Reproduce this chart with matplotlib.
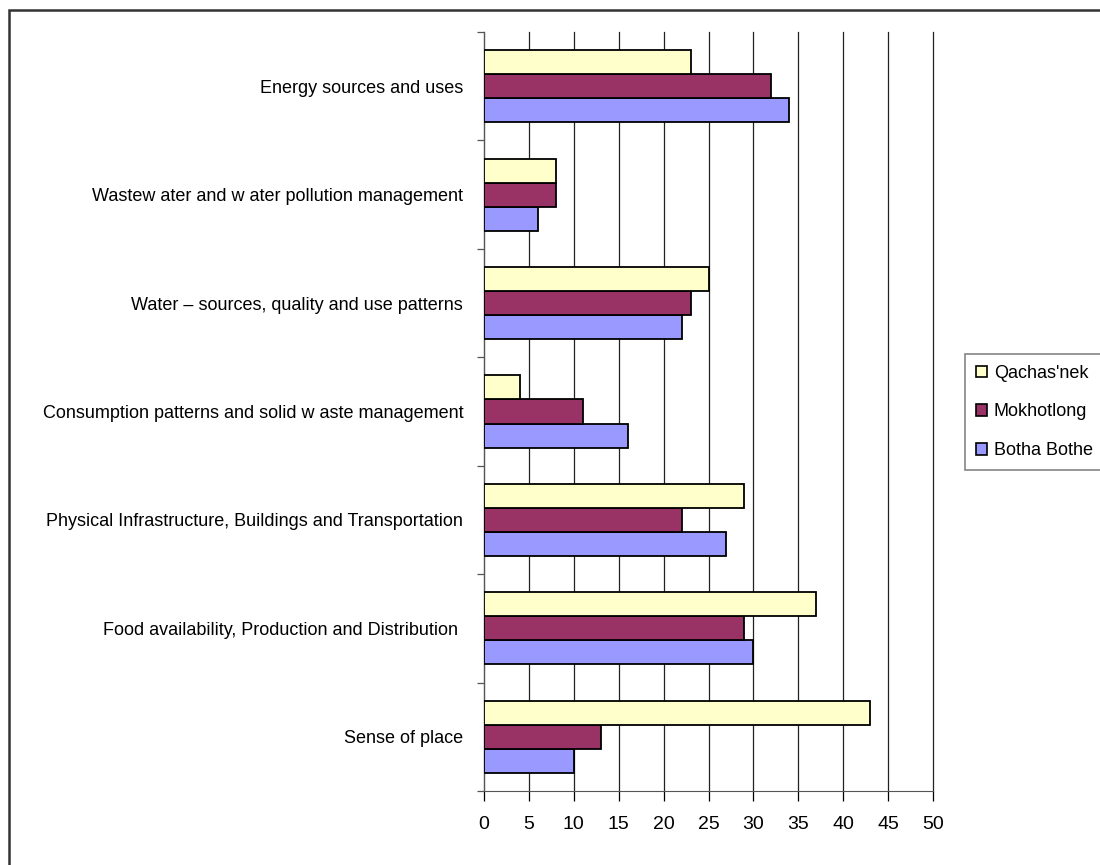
import matplotlib
matplotlib.use("Agg")
import matplotlib.pyplot as plt
import matplotlib.patches as mpatches
import numpy as np

plt.rcParams['font.family'] = ['Liberation Sans', 'DejaVu Sans']

categories = ["Sense of place",
              "Food availability, Production and Distribution ",
              "Physical Infrastructure, Buildings and Transportation",
              "Consumption patterns and solid w aste management",
              "Water \u2013 sources, quality and use patterns",
              "Wastew ater and w ater pollution management",
              "Energy sources and uses"]

botha_bothe = [10, 30, 27, 16, 22, 6, 34]
mokhotlong = [13, 29, 22, 11, 23, 8, 32]
qachas_nek = [43, 37, 29, 4, 25, 8, 23]

series = [("Botha Bothe", botha_bothe, "#9999FF"),
          ("Mokhotlong", mokhotlong, "#993366"),
          ("Qachas'nek", qachas_nek, "#FFFFCC")]

fig = plt.figure(figsize=(11, 8.65), dpi=100)
ax = fig.add_axes([484/1100, 1-791/865, (933-484)/1100, (791-32)/865])

y = np.arange(len(categories))
h = 0.222
for i, (name, vals, col) in enumerate(series):
    ax.barh(y + (i-1)*h, vals, height=h, color=col, edgecolor='black',
            linewidth=1.3, label=name, zorder=3)

ax.set_xlim(0, 50)
ax.set_ylim(-0.5, len(categories)-0.5)
ax.set_xticks(np.arange(0, 51, 5))
ax.xaxis.grid(True, color='#222222', linewidth=0.9, zorder=0)
for gl in ax.get_xgridlines():
    gl.set_clip_on(False)
ax.tick_params(axis='x', direction='out', length=7, width=0.9, pad=11, labelsize=14)

ax.set_yticks(y)
ax.set_yticklabels(categories, fontsize=13)
ax.set_yticks(np.arange(-0.5, len(categories), 1), minor=True)
ax.tick_params(axis='y', which='major', length=0, pad=15)
ax.tick_params(axis='y', which='minor', direction='out', length=5, width=0.9, color='#555555')

for s in ['top', 'right']:
    ax.spines[s].set_visible(False)
ax.spines['left'].set_color('#555555')
ax.spines['bottom'].set_color('#555555')

handles = [mpatches.Patch(facecolor=c, edgecolor='black', linewidth=1.2, label=n)
           for n, v, c in series[::-1]]
leg = fig.legend(handles=handles, loc='center left', bbox_to_anchor=(965/1100, 1-412/865),
                 fontsize=13, frameon=True, fancybox=False, handlelength=0.6,
                 handleheight=0.6, handletextpad=0.4, labelspacing=1.2,
                 borderpad=0.6, borderaxespad=0)
leg.get_frame().set_edgecolor('#666666')
leg.get_frame().set_linewidth(1.2)

# outer chart frame
fig.add_artist(mpatches.Rectangle((9/1100, -0.1), 1.2, 0.1 + 1-10/865,
                                  transform=fig.transFigure, fill=False,
                                  edgecolor='#333333', linewidth=1.8, clip_on=False))

fig.savefig("out.png", dpi=100)
